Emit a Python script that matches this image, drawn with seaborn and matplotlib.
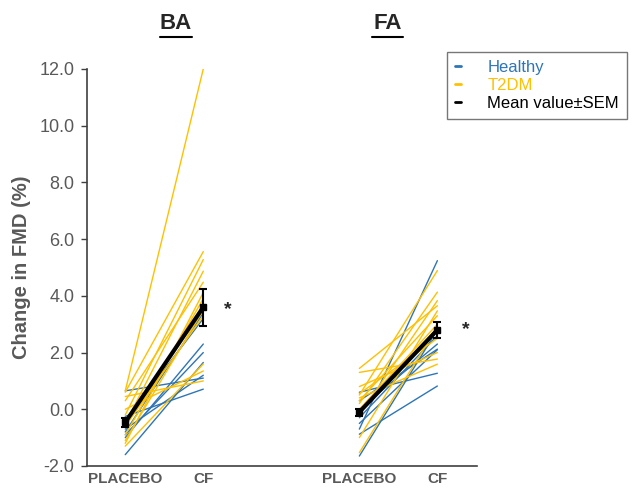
import numpy as np
import pandas as pd
import matplotlib
matplotlib.use("Agg")
import matplotlib.pyplot as plt
import seaborn as sns
from matplotlib.lines import Line2D

# ---- data ----
conditions = ["PLACEBO", "CF"]
sites = ["BA", "FA"]

ba_healthy_placebo = [-1.6, -1.0, -0.8, 0.65, -0.25, -0.7, -0.4, -0.9]
ba_healthy_cf      = [1.65, 2.3, 3.4, 1.1, 0.71, 1.2, 3.2, 2.0]
ba_t2dm_placebo    = [0.65, 0.6, -0.2, -0.5, 0.3, -1.2, -0.9, -1.1, 0.45, -1.3, -0.6, 0.0]
ba_t2dm_cf         = [12.0, 5.56, 5.28, 4.87, 4.48, 4.12, 3.9, 3.5, 1.0, 1.6, 3.3, 1.35]

fa_healthy_placebo = [-1.65, -0.7, -0.88, 0.6, 0.3, 0.0, -0.3, -0.5]
fa_healthy_cf      = [2.8, 5.24, 0.82, 1.27, 2.12, 2.3, 2.6, 2.1]
fa_t2dm_placebo    = [1.44, 1.3, 0.5, 0.2, -0.2, -1.0, -1.53, 0.4, 0.8, 0.0, 0.55, 0.3]
fa_t2dm_cf         = [3.65, 1.77, 4.89, 4.13, 3.83, 3.47, 2.9, 1.59, 2.0, 3.0, 2.5, 3.3]

ba_mean = [-0.46, 3.6]
ba_sem = [0.15, 0.65]
fa_mean = [-0.1, 2.8]
fa_sem = [0.12, 0.27]

# ---- build long table ----
rows = []
def add(site, group, plc, cf, offset):
    for i, (a, b) in enumerate(zip(plc, cf)):
        sid = f"{site}-{group}-{i}"
        rows.append(dict(site=site, group=group, subject=sid, pos=offset + 0, value=a))
        rows.append(dict(site=site, group=group, subject=sid, pos=offset + 1, value=b))

add("BA", "Healthy", ba_healthy_placebo, ba_healthy_cf, 0)
add("BA", "T2DM", ba_t2dm_placebo, ba_t2dm_cf, 0)
add("FA", "Healthy", fa_healthy_placebo, fa_healthy_cf, 3)
add("FA", "T2DM", fa_t2dm_placebo, fa_t2dm_cf, 3)
df = pd.DataFrame(rows)
df["order"] = df["subject"].str.split("-").str[-1].astype(int)
df = df.sort_values(["order", "group"])

blue = "#2E75B6"
yellow = "#FFC000"
grey = "#595959"

sns.set_style("white")
plt.rcParams["font.family"] = ["Liberation Sans", "DejaVu Sans"]

fig = plt.figure(figsize=(6.32, 4.96), dpi=100)
ax = fig.add_axes([0.1377, 0.0605, 0.6173, 0.8005])

sns.lineplot(data=df, x="pos", y="value", hue="group", units="subject",
             estimator=None, palette={"Healthy": blue, "T2DM": yellow},
             linewidth=1.0, ax=ax, legend=False, sort=False)

for off, m, s in [(0, ba_mean, ba_sem), (3, fa_mean, fa_sem)]:
    ax.errorbar([off, off + 1], m, yerr=s, color="black", lw=3, marker="s",
                markersize=5, capsize=3, elinewidth=1.5, capthick=1.5, zorder=5)

ax.set_xlim(-0.49, 4.51)
ax.set_ylim(-2, 12)
ax.set_yticks(np.arange(-2, 12.1, 2))
ax.set_yticklabels([f"{v:.1f}" for v in np.arange(-2, 12.1, 2)], color=grey, fontsize=13)
ax.set_xticks([0, 1, 3, 4])
ax.set_xticklabels(conditions * 2, color=grey, fontsize=11, fontweight="bold")
ax.tick_params(axis="x", length=0, pad=4)
ax.tick_params(axis="y", length=4, width=1, color="#404040", direction="out", left=True, pad=5)
ax.set_xlabel("")
ax.set_ylabel("Change in FMD (%)", color=grey, fontsize=14.5, fontweight="bold", labelpad=6)
for sp in ["top", "right"]:
    ax.spines[sp].set_visible(False)
for sp in ["left", "bottom"]:
    ax.spines[sp].set_color("#404040")
    ax.spines[sp].set_linewidth(1.2)

ax.text(1.32, 3.5, "*", fontsize=14, fontweight="bold", ha="center", va="center")
ax.text(4.36, 2.8, "*", fontsize=14, fontweight="bold", ha="center", va="center")

for x, t in [(0.65, sites[0]), (3.36, sites[1])]:
    ax.text(x, 1.087, t, transform=ax.get_xaxis_transform(), fontsize=16,
            fontweight="bold", ha="center", va="bottom")
    ax.plot([x - 0.2, x + 0.2], [1.08, 1.08], transform=ax.get_xaxis_transform(),
            color="black", lw=1.5, clip_on=False)

handles = [Line2D([0], [0], color=c, lw=2) for c in [blue, yellow, "black"]]
leg = fig.legend(handles, ["Healthy", "T2DM", "Mean value\u00b1SEM"],
                 loc="upper left", bbox_to_anchor=(0.708, 0.895), fontsize=12,
                 handlelength=0.35, handletextpad=1.6, frameon=True, fancybox=False,
                 borderpad=0.45, labelspacing=0.2, borderaxespad=0)
leg.get_frame().set_edgecolor("#555555")
leg.get_frame().set_linewidth(1.0)
for t, c in zip(leg.get_texts(), [blue, yellow, "black"]):
    t.set_color(c)

fig.savefig("out.png", dpi=100)
